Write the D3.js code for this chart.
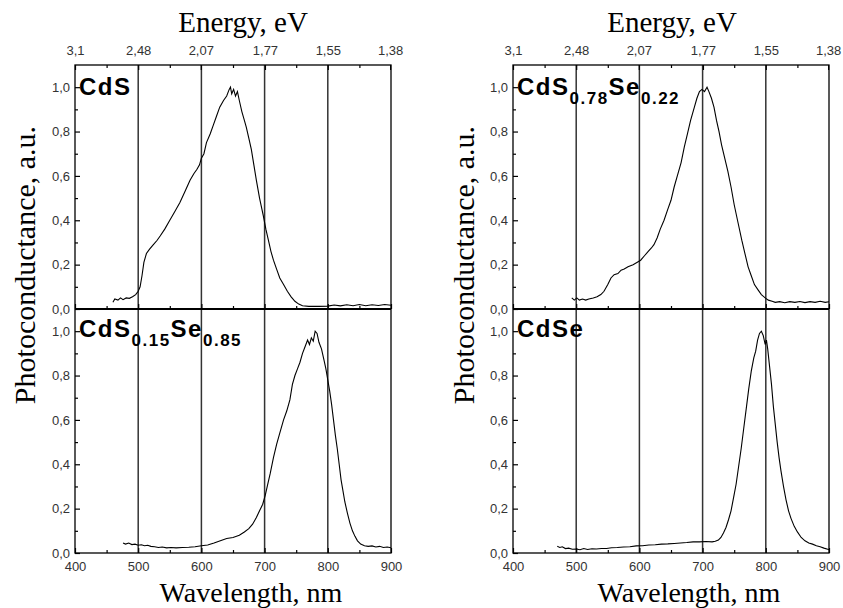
<!DOCTYPE html>
<html>
<head>
<meta charset="utf-8">
<script src="https://cdn.jsdelivr.net/npm/d3@7"></script>
<style>
  body { margin: 0; background: #fff; }
  .tick text { font-family: 'Liberation Sans', Arial, sans-serif; font-size: 13px; fill: #333; }
  .tick line { stroke: #000; stroke-width: 1.2; }
</style>
</head>
<body>
<div class="canvas"></div>
<script>
// axis values
const wlTicks = [400, 500, 600, 700, 800, 900];
const wlMinor = [450, 550, 650, 750, 850];
const evTicks = [3.1, 2.48, 2.07, 1.77, 1.55, 1.38];
const gridWl = [500, 600, 700, 800];
const pcTicks = [0, 0.2, 0.4, 0.6, 0.8, 1.0];
const pcMinor = [0.1, 0.3, 0.5, 0.7, 0.9];

// spectra [wavelength nm, photoconductance a.u.]
const cds = [[460,0.03],[463,0.045],[468,0.04],[472,0.05],[476,0.042],[481,0.05],[486,0.048],[491,0.055],[496,0.065],[500,0.08],[503,0.1],[506,0.15],[509,0.21],[513,0.25],[518,0.27],[524,0.29],[530,0.31],[535,0.33],[542,0.36],[550,0.40],[558,0.44],[566,0.48],[574,0.53],[582,0.58],[588,0.61],[593,0.63],[597,0.65],[600,0.68],[604,0.70],[608,0.75],[614,0.79],[619,0.83],[624,0.87],[629,0.91],[635,0.94],[640,0.96],[644,0.99],[646,1.0],[648,0.97],[651,0.99],[654,0.96],[657,0.98],[660,0.94],[664,0.89],[668,0.85],[671,0.82],[675,0.77],[679,0.72],[683,0.65],[687,0.58],[692,0.50],[698,0.42],[702,0.36],[706,0.31],[710,0.26],[714,0.22],[719,0.18],[724,0.14],[730,0.11],[736,0.08],[742,0.055],[748,0.035],[754,0.022],[760,0.015],[770,0.012],[785,0.012],[800,0.013],[810,0.018],[820,0.014],[830,0.019],[840,0.015],[850,0.02],[860,0.015],[870,0.019],[880,0.016],[890,0.02],[900,0.017]];

const cds78 = [[493,0.05],[497,0.04],[501,0.05],[505,0.04],[510,0.045],[515,0.04],[520,0.045],[527,0.05],[533,0.055],[539,0.065],[544,0.08],[550,0.11],[555,0.14],[560,0.155],[566,0.16],[571,0.175],[576,0.18],[582,0.19],[590,0.20],[596,0.21],[602,0.22],[608,0.24],[614,0.26],[619,0.275],[623,0.29],[628,0.32],[633,0.36],[639,0.40],[645,0.45],[650,0.49],[655,0.55],[660,0.60],[666,0.66],[671,0.73],[676,0.79],[681,0.85],[687,0.91],[691,0.95],[695,0.98],[699,0.99],[703,0.98],[707,1.0],[710,0.98],[714,0.95],[718,0.91],[722,0.85],[726,0.80],[730,0.74],[735,0.68],[740,0.62],[745,0.55],[750,0.47],[756,0.39],[762,0.31],[767,0.25],[772,0.19],[777,0.15],[782,0.11],[788,0.085],[793,0.065],[799,0.05],[804,0.04],[810,0.035],[815,0.03],[822,0.033],[830,0.028],[838,0.033],[846,0.03],[854,0.034],[862,0.029],[870,0.033],[878,0.03],[886,0.035],[894,0.03],[900,0.033]];

const cds15 = [[476,0.045],[480,0.04],[485,0.045],[490,0.038],[495,0.04],[500,0.035],[505,0.037],[510,0.033],[515,0.035],[520,0.03],[526,0.028],[532,0.025],[538,0.027],[545,0.023],[552,0.025],[560,0.023],[570,0.025],[580,0.026],[590,0.028],[600,0.033],[610,0.036],[620,0.045],[630,0.055],[640,0.065],[650,0.07],[660,0.08],[668,0.095],[675,0.11],[681,0.13],[687,0.16],[692,0.19],[697,0.22],[701,0.26],[705,0.31],[709,0.36],[714,0.43],[719,0.49],[724,0.54],[730,0.60],[735,0.64],[740,0.69],[744,0.76],[748,0.80],[752,0.83],[756,0.86],[760,0.90],[764,0.93],[768,0.96],[771,0.94],[774,0.97],[777,0.955],[780,1.0],[783,0.99],[786,0.95],[790,0.92],[794,0.87],[797,0.83],[800,0.78],[803,0.73],[806,0.67],[809,0.60],[812,0.53],[815,0.47],[818,0.40],[821,0.33],[824,0.28],[827,0.23],[831,0.18],[835,0.135],[839,0.10],[843,0.075],[847,0.055],[852,0.04],[858,0.033],[864,0.03],[870,0.032],[876,0.027],[882,0.03],[888,0.025],[894,0.027],[900,0.024]];

const cdse = [[470,0.03],[474,0.025],[478,0.028],[483,0.02],[488,0.022],[494,0.017],[500,0.018],[506,0.015],[512,0.02],[518,0.016],[525,0.019],[532,0.018],[540,0.02],[548,0.02],[556,0.024],[565,0.025],[575,0.027],[585,0.028],[595,0.032],[605,0.033],[615,0.036],[625,0.037],[635,0.04],[645,0.041],[655,0.043],[665,0.045],[675,0.047],[685,0.05],[695,0.05],[705,0.052],[715,0.05],[720,0.053],[725,0.058],[729,0.07],[733,0.09],[737,0.115],[741,0.15],[745,0.19],[749,0.25],[753,0.31],[757,0.39],[761,0.47],[765,0.56],[769,0.65],[773,0.74],[777,0.82],[781,0.88],[784,0.91],[787,0.96],[790,0.99],[793,1.0],[796,0.98],[799,0.94],[801,0.96],[803,0.92],[806,0.84],[809,0.76],[812,0.66],[815,0.58],[818,0.50],[821,0.43],[824,0.37],[828,0.30],[832,0.24],[836,0.19],[840,0.155],[845,0.12],[850,0.095],[856,0.07],[862,0.055],[868,0.045],[874,0.04],[880,0.033],[886,0.028],[892,0.022],[898,0.017],[900,0.015]];

// sample labels: [text, isSubscript]
const labelCdS = [['CdS', false]];
const labelCdS78 = [['CdS', false], ['0.78', true], ['Se', false], ['0.22', true]];
const labelCdS15 = [['CdS', false], ['0.15', true], ['Se', false], ['0.85', true]];
const labelCdSe = [['CdSe', false]];

const width = 843;
const height = 608;

const svg = d3
  .select('.canvas')
  .append('svg')
  .attr('width', width)
  .attr('height', height);

// layout
const top0 = 65, mid = 309, bottom0 = 553;
const columns = [
  { x0: 75, x1: 391, titleX: 243, xlabX: 251, ylabX: 35, upper: cds, lower: cds15, upLab: labelCdS, loLab: labelCdS15 },
  { x0: 513, x1: 829, titleX: 672, xlabX: 689, ylabX: 474, upper: cds78, lower: cdse, upLab: labelCdS78, loLab: labelCdSe }
];

const yUpper = d3.scaleLinear().domain([0, 1.1]).range([mid, top0]);
const yLower = d3.scaleLinear().domain([0, 1.1]).range([bottom0, mid]);

const fmt = d => d3.format('.1f')(d).replace('.', ',');

const serif = "'Liberation Serif', 'Times New Roman', serif";
const sans = "'Liberation Sans', Arial, sans-serif";

columns.forEach(c => {
  const x = d3.scaleLinear().domain([400, 900]).range([c.x0, c.x1]);
  const g = svg.append('g');

  // vertical grid lines through both panels
  g.selectAll('.grid')
    .data(gridWl)
    .enter()
    .append('line')
    .attr('x1', d => x(d))
    .attr('x2', d => x(d))
    .attr('y1', top0)
    .attr('y2', bottom0)
    .attr('stroke', '#333')
    .attr('stroke-width', 1.5);

  // curves
  [[c.upper, yUpper], [c.lower, yLower]].forEach(([data, y]) => {
    const line = d3.line().x(d => x(d[0])).y(d => y(d[1]));
    g.append('path')
      .datum(data)
      .attr('fill', 'none')
      .attr('stroke', '#000')
      .attr('stroke-width', 1.1)
      .attr('d', line);
  });

  // y axes for both panels
  [yUpper, yLower].forEach(y => {
    g.append('g')
      .attr('transform', `translate(${c.x0},0)`)
      .call(d3.axisLeft(y).tickValues(pcTicks).tickSize(-5).tickPadding(5).tickFormat(fmt))
      .call(a => a.select('.domain').remove());
    g.append('g')
      .attr('transform', `translate(${c.x0},0)`)
      .call(d3.axisLeft(y).tickValues(pcMinor).tickSize(-3).tickFormat(''))
      .call(a => a.select('.domain').remove());
  });

  // bottom wavelength axis
  g.append('g')
    .attr('transform', `translate(0,${bottom0})`)
    .call(d3.axisBottom(x).tickValues(wlTicks).tickSize(-5).tickPadding(9).tickFormat(d3.format('d')))
    .call(a => a.select('.domain').remove());
  g.append('g')
    .attr('transform', `translate(0,${bottom0})`)
    .call(d3.axisBottom(x).tickValues(wlMinor).tickSize(-3).tickFormat(''))
    .call(a => a.select('.domain').remove());

  // ticks on the divider (bottom of upper panel)
  g.append('g')
    .attr('transform', `translate(0,${mid})`)
    .call(d3.axisBottom(x).tickValues(wlTicks).tickSize(-5).tickFormat(''))
    .call(a => a.select('.domain').remove());
  g.append('g')
    .attr('transform', `translate(0,${mid})`)
    .call(d3.axisBottom(x).tickValues(wlMinor).tickSize(-3).tickFormat(''))
    .call(a => a.select('.domain').remove());

  // top energy axis (E = 1240 / lambda)
  g.append('g')
    .attr('transform', `translate(0,${top0})`)
    .call(d3.axisTop(x).tickValues(evTicks.map(e => 1240 / e)).tickSize(-5).tickPadding(10)
      .tickFormat((d, i) => String(evTicks[i]).replace('.', ',')))
    .call(a => a.select('.domain').remove());
  g.append('g')
    .attr('transform', `translate(0,${top0})`)
    .call(d3.axisTop(x).tickValues(wlMinor).tickSize(-3).tickFormat(''))
    .call(a => a.select('.domain').remove());

  // frames
  g.append('rect')
    .attr('x', c.x0).attr('y', top0)
    .attr('width', c.x1 - c.x0).attr('height', bottom0 - top0)
    .attr('fill', 'none').attr('stroke', '#000').attr('stroke-width', 1.3);
  g.append('line')
    .attr('x1', c.x0).attr('x2', c.x1)
    .attr('y1', mid).attr('y2', mid)
    .attr('stroke', '#000').attr('stroke-width', 2.2);

  // titles
  g.append('text')
    .attr('x', c.titleX).attr('y', 32)
    .attr('text-anchor', 'middle')
    .style('font-family', serif).style('font-size', '29px')
    .text('Energy, eV');
  g.append('text')
    .attr('x', c.xlabX).attr('y', 602)
    .attr('text-anchor', 'middle')
    .style('font-family', serif).style('font-size', '28px')
    .text('Wavelength, nm');
  g.append('text')
    .attr('transform', `translate(${c.ylabX},265) rotate(-90)`)
    .attr('text-anchor', 'middle')
    .style('font-family', serif).style('font-size', '30px')
    .text('Photoconductance, a.u.');

  // sample labels
  const addLabel = (parts, baseY) => {
    const t = g.append('text')
      .attr('x', c.x0 + 4).attr('y', baseY)
      .style('font-family', sans).style('font-weight', 'bold')
      .style('letter-spacing', '1.5px');
    let sub = false;
    parts.forEach(([s, isSub]) => {
      const dy = isSub === sub ? 0 : (isSub ? 9 : -9);
      sub = isSub;
      t.append('tspan')
        .attr('dy', dy)
        .style('font-size', isSub ? '17px' : '24px')
        .text(s);
    });
  };
  addLabel(c.upLab, 95);
  addLabel(c.loLab, 337);
});
</script>
</body>
</html>
